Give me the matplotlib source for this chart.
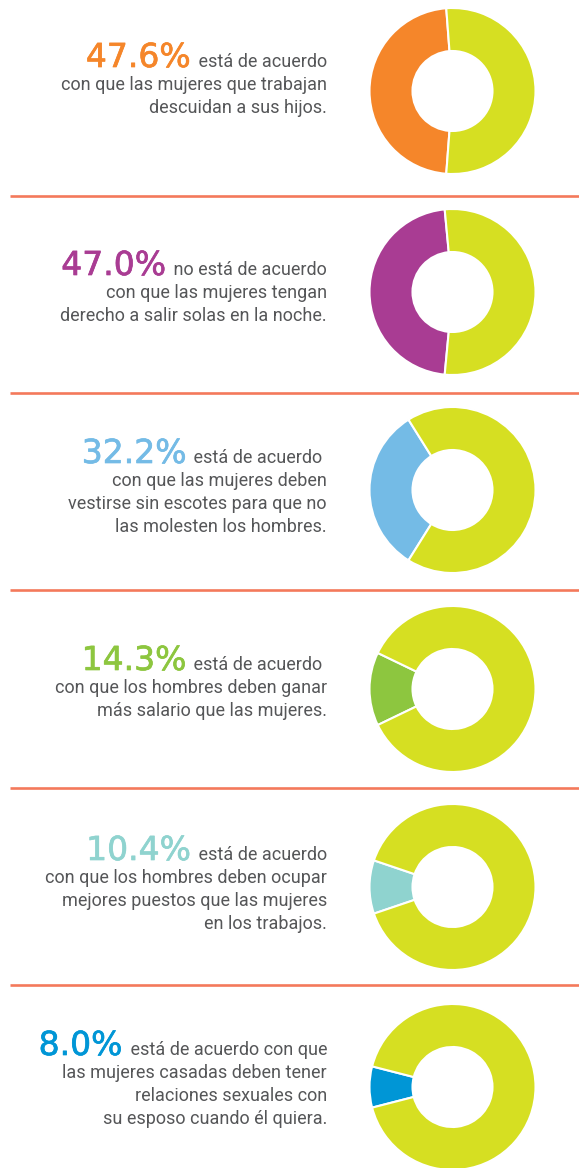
import matplotlib
matplotlib.use("Agg")
import matplotlib.pyplot as plt
import matplotlib.patheffects as pe

# data
pcts = [47.6, 47.0, 32.2, 14.3, 10.4, 8.0]
pct_labels = ["47.6%", "47.0%", "32.2%", "14.3%", "10.4%", "8.0%"]
slice_colors = ["#F5862A", "#A93C93", "#74BBE6", "#8DC63F", "#8FD3CF", "#0096D6"]
rest_color = "#D6DF22"
first_lines = [
    " está de acuerdo",
    " no está de acuerdo",
    " está de acuerdo ",
    " está de acuerdo ",
    " está de acuerdo",
    " está de acuerdo con que",
]
other_lines = [
    ["con que las mujeres que trabajan", "descuidan a sus hijos."],
    ["con que las mujeres tengan", "derecho a salir solas en la noche."],
    ["con que las mujeres deben", "vestirse sin escotes para que no",
     "las molesten los hombres."],
    ["con que los hombres deben ganar", "más salario que las mujeres."],
    ["con que los hombres deben ocupar", "mejores puestos que las mujeres",
     "en los trabajos."],
    ["las mujeres casadas deben tener", "relaciones sexuales con",
     "su esposo cuando él quiera."],
]

# layout (pixels)
W, H = 579, 1168
donut_y = [91, 292, 490, 689, 887, 1087]
text_y = [67, 275, 463, 670, 860, 1055]
sep_y = [196, 393, 590, 788, 985]
text_gray = "#555658"
small_px = 18
big_px = 33

fig = plt.figure(figsize=(W / 100, H / 100), dpi=100)
ax = fig.add_axes([0, 0, 1, 1])

for i, p in enumerate(pcts):
    ax.pie([p, 100 - p], colors=[slice_colors[i], rest_color],
           startangle=180 - p * 1.8, counterclock=True,
           center=(452.5, donut_y[i]), radius=83,
           wedgeprops=dict(width=43, edgecolor="white", linewidth=1.5))

ax.set_xlim(0, W)
ax.set_ylim(H, 0)
ax.set_aspect("auto")
ax.axis("off")

for y in sep_y:
    ax.plot([10, W], [y, y], color="#F4795B", linewidth=1.9,
            solid_capstyle="butt")

fig.canvas.draw()
renderer = fig.canvas.get_renderer()
inv = ax.transData.inverted()

for i in range(len(pcts)):
    y0 = text_y[i]
    t = ax.text(327, y0, first_lines[i], ha="right", va="baseline",
                fontsize=small_px * 0.72, color=text_gray, family="Roboto")
    bb = t.get_window_extent(renderer)
    left = inv.transform((bb.x0, bb.y0))[0]
    ax.text(left - 3, y0, pct_labels[i], ha="right", va="baseline",
            fontsize=big_px * 0.72, color=slice_colors[i],
            family="DejaVu Sans",
            path_effects=[pe.withStroke(linewidth=0.5,
                                        foreground=slice_colors[i])])
    for k, line in enumerate(other_lines[i]):
        ax.text(327, y0 + 23 * (k + 1), line, ha="right", va="baseline",
                fontsize=small_px * 0.72, color=text_gray, family="Roboto")

fig.savefig("out.png", dpi=100, facecolor="white")
